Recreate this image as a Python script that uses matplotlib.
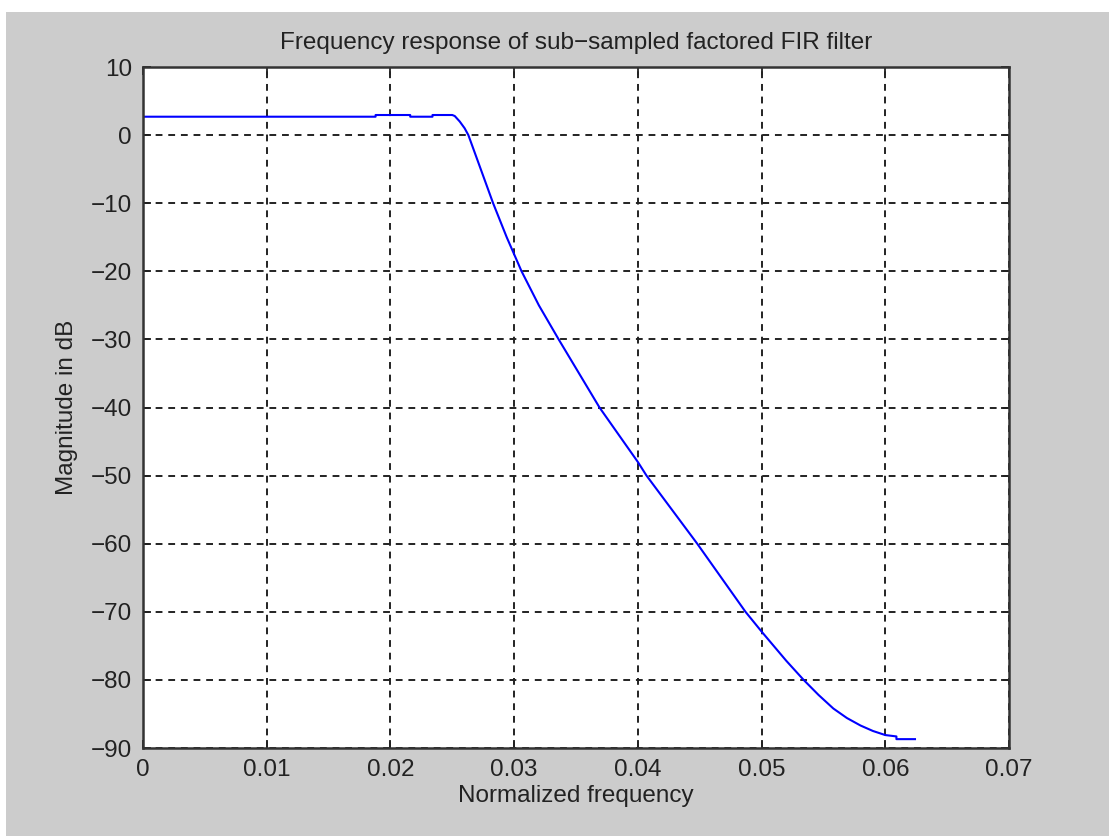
import matplotlib
matplotlib.use('Agg')
import matplotlib.pyplot as plt
from matplotlib.patches import Rectangle

# Frequency response
freq = [0.0, 0.0188, 0.0188, 0.0216, 0.0216, 0.0234, 0.0234, 0.0250,
        0.0252, 0.0256, 0.0260, 0.0263, 0.0270, 0.0283, 0.0294, 0.0306,
        0.0320, 0.0336, 0.0369, 0.0400, 0.0407, 0.0448, 0.0487, 0.0500,
        0.0520, 0.0534, 0.0546, 0.0558, 0.0569, 0.0580, 0.0590, 0.0600,
        0.0609, 0.0609, 0.0624]
mag_db = [2.7, 2.7, 2.95, 2.95, 2.7, 2.7, 2.95, 2.95,
          2.8, 2.0, 1.0, 0.0, -3.5, -10.0, -15.0, -20.0,
          -25.0, -30.0, -40.0, -48.0, -50.0, -60.0, -70.0, -72.9,
          -77.2, -80.0, -82.2, -84.2, -85.6, -86.7, -87.5, -88.1,
          -88.3, -88.7, -88.7]

xticks = [0, 0.01, 0.02, 0.03, 0.04, 0.05, 0.06, 0.07]
xticklabels = ['0', '0.01', '0.02', '0.03', '0.04', '0.05', '0.06', '0.07']
yticks = list(range(-90, 11, 10))

plt.rcParams['font.family'] = ['Liberation Sans', 'DejaVu Sans']
plt.rcParams['axes.unicode_minus'] = True

fig = plt.figure(figsize=(11.1, 8.36), dpi=100, facecolor='white')
# grey MATLAB-style figure background with a thin white margin top/left
fig.patches.append(Rectangle((6 / 1110, 0), 1103 / 1110, 824 / 836,
                             transform=fig.transFigure, facecolor='#cccccc',
                             edgecolor='none', zorder=-10))

ax = fig.add_axes([143 / 1110, 88 / 836, 866 / 1110, 681 / 836])
ax.set_facecolor('white')
ax.plot(freq, mag_db, color='#0000ff', linewidth=1.5)

ax.set_xlim(0, 0.07)
ax.set_ylim(-90, 10)
ax.set_xticks(xticks)
ax.set_xticklabels(xticklabels)
ax.set_yticks(yticks)

ax.grid(True, color='#222222', linestyle=(0, (3.5, 3)), linewidth=1.4)
ax.tick_params(direction='in', length=6, width=1.3, color='#222222',
               top=True, right=True, labelsize=17.5, labelcolor='#222222', pad=8)
for sp in ax.spines.values():
    sp.set_linewidth(1.8)
    sp.set_color('#333333')

ax.set_title('Frequency response of sub\u2212sampled factored FIR filter',
             fontsize=17.5, color='#222222', pad=13)
ax.set_xlabel('Normalized frequency', fontsize=17.5, color='#222222', labelpad=3)
ax.set_ylabel('Magnitude in dB', fontsize=17.5, color='#222222', labelpad=9)

fig.savefig('out.png', dpi=100, facecolor=fig.get_facecolor())
